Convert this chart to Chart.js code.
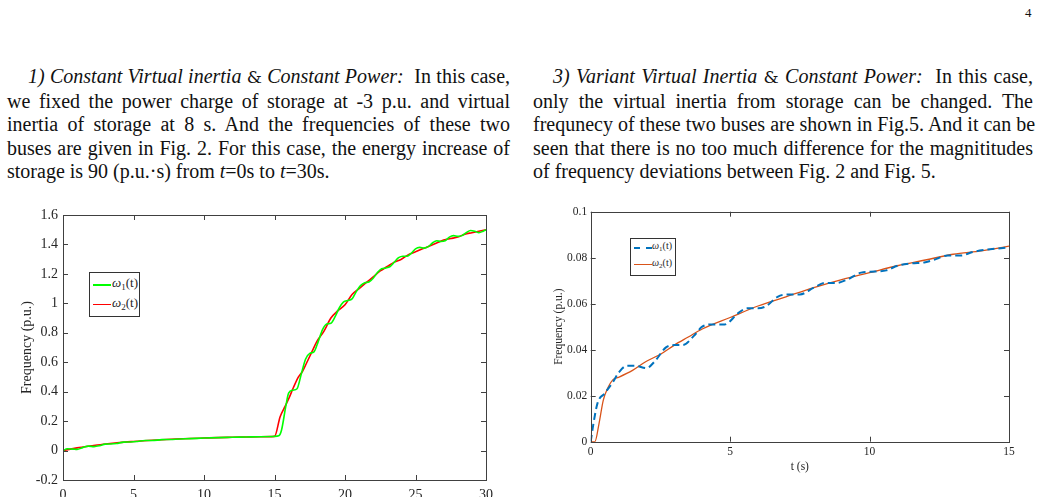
<!DOCTYPE html>
<html>
<head>
<meta charset="utf-8">
<script src="https://cdn.jsdelivr.net/npm/chart.js@4/dist/chart.umd.min.js"></script>
<style>
  html, body { margin: 0; padding: 0; background: #fff; }
  body { width: 1041px; height: 497px; overflow: hidden; position: relative;
         font-family: 'Liberation Serif', 'Times New Roman', serif; color: #111; }
  .pageno { position: absolute; left: 1025px; top: 5px; font-size: 13px; }
  .col { position: absolute; top: 65px; font-size: 20px; line-height: 23.6px; }
  .col div { text-align: justify; text-align-last: justify; white-space: nowrap; }
  .col div.last { text-align-last: left; }
  .col i { font-style: italic; }
  .amp { font-family: 'DejaVu Serif', serif; font-size: 17px; }
  .chartbox { position: absolute; }
  .legend { position: absolute; background: #fff; border: 1px solid #333; box-sizing: border-box; }
  .legend .row { position: absolute; left: 0; white-space: nowrap; }
  .legend .swatch { position: absolute; }
  .legend .lbl { position: absolute; color: #262626; }
  .legend sub { font-size: 70%; vertical-align: -0.35em; line-height: 0; }
</style>
</head>
<body>
<div class="pageno">4</div>

<div class="col" style="left:7px;width:503px;">
  <div style="padding-left:21px;"><i>1) Constant Virtual inertia</i> <span class="amp">&amp;</span> <i>Constant Power:</i>&nbsp; In this case,</div>
  <div>we fixed the power charge of storage at -3 p.u. and virtual</div>
  <div>inertia of storage at 8 s. And the frequencies of these two</div>
  <div>buses are given in Fig. 2. For this case, the energy increase of</div>
  <div class="last">storage is 90 (p.u.·s) from <i>t</i>=0s to <i>t</i>=30s.</div>
</div>

<div class="col" style="left:533px;width:500px;">
  <div style="padding-left:20px;"><i>3) Variant Virtual Inertia</i> <span class="amp">&amp;</span> <i>Constant Power:</i>&nbsp; In this case,</div>
  <div>only the virtual inertia from storage can be changed. The</div>
  <div>frequnecy of these two buses are shown in Fig.5. And it can be</div>
  <div>seen that there is no too much difference for the magnititudes</div>
  <div class="last">of frequency deviations between Fig. 2 and Fig. 5.</div>
</div>

<div class="chartbox" style="left:0;top:200px;width:500px;height:310px;"><canvas id="fig2"></canvas></div>
<div class="chartbox" style="left:530px;top:200px;width:511px;height:297px;"><canvas id="fig5"></canvas></div>

<div class="legend" style="left:89px;top:272px;width:51px;height:45px;">
  <div class="swatch" style="left:3px;top:11px;width:18px;border-top:2px solid #00ff00;"></div>
  <div class="lbl" style="left:22px;top:2px;font-size:13px;"><i>ω</i><sub>1</sub>(t)</div>
  <div class="swatch" style="left:3px;top:31px;width:18px;border-top:1.5px solid #ff0000;"></div>
  <div class="lbl" style="left:22px;top:22px;font-size:13px;"><i>ω</i><sub>2</sub>(t)</div>
</div>

<div class="legend" style="left:630px;top:238px;width:46px;height:38px;">
  <div class="swatch" style="left:3px;top:8px;width:18px;border-top:2px dashed #0072bd;"></div>
  <div class="lbl" style="left:21px;top:1px;font-size:10px;"><i>ω</i><sub>1</sub>(t)</div>
  <div class="swatch" style="left:3px;top:25px;width:18px;border-top:1.5px solid #d95319;"></div>
  <div class="lbl" style="left:21px;top:18px;font-size:10px;"><i>ω</i><sub>2</sub>(t)</div>
</div>

<script>
// Fig. 2 - constant inertia, constant power
const fig2T2 = [0, 1, 2, 3, 4, 5, 6, 7, 8, 9, 10, 11, 12, 13, 14, 15, 15.4, 15.75, 16, 16.35, 16.7, 17, 17.3, 17.65, 18, 18.5, 19, 19.5, 20, 20.5, 21, 21.5, 22, 22.5, 23, 23.5, 24, 24.5, 25, 25.5, 26, 26.5, 27, 27.5, 28, 28.5, 29, 29.5, 30];
const fig2W2 = [0, 0.018, 0.032, 0.045, 0.055, 0.062, 0.068, 0.073, 0.078, 0.082, 0.085, 0.088, 0.09, 0.092, 0.094, 0.096, 0.23, 0.3, 0.35, 0.43, 0.5, 0.54, 0.6, 0.67, 0.74, 0.81, 0.9, 0.95, 0.99, 1.06, 1.1, 1.14, 1.18, 1.22, 1.25, 1.28, 1.3, 1.33, 1.35, 1.37, 1.39, 1.41, 1.43, 1.44, 1.45, 1.47, 1.48, 1.49, 1.5];
const fig2T1 = [0, 0.3, 0.7, 1.0, 1.4, 1.8, 2.2, 2.6, 3.0, 3.4, 3.8, 4.3, 4.8, 5.3, 5.8, 6.3, 7, 7.6, 8.3, 9, 10, 11, 12, 13, 14, 15, 15.3, 15.5, 15.8, 16.0, 16.3, 16.6, 16.9, 17.2, 17.5, 17.8, 18.1, 18.4, 18.7, 19.0, 19.3, 19.6, 19.9, 20.2, 20.5, 20.8, 21.1, 21.4, 21.7, 22.0, 22.3, 22.6, 22.9, 23.2, 23.5, 23.8, 24.1, 24.4, 24.7, 25.0, 25.3, 25.6, 25.9, 26.2, 26.5, 26.8, 27.1, 27.4, 27.7, 28.0, 28.3, 28.6, 28.9, 29.2, 29.5, 29.8, 30];
const fig2W1 = [0, 0.012, 0.01, 0.008, 0.02, 0.03, 0.027, 0.033, 0.044, 0.045, 0.048, 0.057, 0.058, 0.062, 0.068, 0.068, 0.074, 0.075, 0.079, 0.081, 0.085, 0.088, 0.09, 0.092, 0.094, 0.096, 0.1, 0.14, 0.3, 0.39, 0.41, 0.42, 0.52, 0.62, 0.66, 0.67, 0.74, 0.82, 0.86, 0.865, 0.91, 0.97, 1.01, 1.02, 1.03, 1.08, 1.12, 1.14, 1.145, 1.17, 1.21, 1.235, 1.24, 1.25, 1.28, 1.31, 1.32, 1.32, 1.34, 1.37, 1.38, 1.375, 1.385, 1.41, 1.425, 1.42, 1.425, 1.45, 1.46, 1.455, 1.46, 1.48, 1.495, 1.49, 1.48, 1.49, 1.5];
const fig2XTicks = [0, 5, 10, 15, 20, 25, 30];
const fig2YTicks = [-0.2, 0, 0.2, 0.4, 0.6, 0.8, 1, 1.2, 1.4, 1.6];

// Fig. 5 - variant inertia, constant power
const fig5T1 = [0, 0.1, 0.25, 0.5, 0.8, 1.0, 1.3, 1.6, 2.0, 2.3, 2.7, 3.0, 3.3, 3.7, 4.0, 4.4, 4.8, 5.3, 5.6, 6.0, 6.3, 6.7, 7.0, 7.5, 8.0, 8.4, 8.8, 9.2, 9.7, 10.2, 10.6, 11.0, 11.5, 12.0, 12.4, 12.8, 13.3, 13.7, 14.2, 14.6, 15];
const fig5W1 = [0, 0.008, 0.017, 0.021, 0.026, 0.03, 0.033, 0.033, 0.032, 0.035, 0.041, 0.042, 0.042, 0.046, 0.05, 0.051, 0.051, 0.056, 0.058, 0.058, 0.059, 0.063, 0.064, 0.064, 0.067, 0.069, 0.069, 0.0705, 0.0735, 0.074, 0.0745, 0.0765, 0.0775, 0.078, 0.0795, 0.081, 0.081, 0.0825, 0.0835, 0.084, 0.0845];
const fig5T2 = [0, 0.15, 0.3, 0.45, 0.6, 0.8, 1.0, 1.5, 2, 2.5, 3, 3.5, 4, 5, 6, 7, 8, 9, 10, 11, 12, 13, 14, 15];
const fig5W2 = [0, 0, 0.008, 0.018, 0.023, 0.027, 0.028, 0.031, 0.035, 0.038, 0.042, 0.0455, 0.049, 0.054, 0.059, 0.063, 0.067, 0.0705, 0.0735, 0.0765, 0.079, 0.0815, 0.083, 0.085];
const fig5XTicks = [0, 5, 10, 15];
const fig5YTicks = [0, 0.02, 0.04, 0.06, 0.08, 0.1];

const pts = (xs, ys) => xs.map((x, i) => ({ x: x, y: ys[i] }));

// matlab-style box with inward ticks on all four sides
const boxTicks = {
    id: 'boxTicks',
    afterDraw(chart, args, opts) {
        const ctx = chart.ctx;
        const a = chart.chartArea;
        const x = chart.scales.x, y = chart.scales.y;
        const len = opts.len || 5;
        ctx.save();
        ctx.strokeStyle = opts.color || '#333';
        ctx.lineWidth = 1;
        ctx.beginPath();
        x.ticks.forEach(t => {
            const p = Math.round(x.getPixelForValue(t.value)) + 0.5;
            ctx.moveTo(p, a.bottom); ctx.lineTo(p, a.bottom - len);
            ctx.moveTo(p, a.top); ctx.lineTo(p, a.top + len);
        });
        y.ticks.forEach(t => {
            const p = Math.round(y.getPixelForValue(t.value)) + 0.5;
            ctx.moveTo(a.left, p); ctx.lineTo(a.left + len, p);
            ctx.moveTo(a.right, p); ctx.lineTo(a.right - len, p);
        });
        ctx.stroke();
        ctx.strokeRect(Math.round(a.left) + 0.5, Math.round(a.top) + 0.5,
            Math.round(a.right - a.left), Math.round(a.bottom - a.top));
        ctx.restore();
    }
};

const fmt = v => String(Math.round(v * 1000) / 1000);

function makeScales(o) {
    return {
        x: {
            type: 'linear', min: o.xMin, max: o.xMax,
            afterBuildTicks: s => { s.ticks = o.xTicks.map(v => ({ value: v })); },
            afterFit: s => { s.height = o.xHeight; },
            grid: { display: false, drawTicks: false },
            border: { display: false },
            ticks: { padding: o.xPad, color: '#262626', maxRotation: 0, autoSkip: false,
                     font: { family: 'Liberation Serif', size: o.font }, callback: fmt },
            title: o.xTitle ? { display: true, text: o.xTitle, color: '#262626', padding: { top: 0, bottom: o.xTitlePad },
                     font: { family: 'Liberation Serif', size: o.font } } : { display: false }
        },
        y: {
            type: 'linear', min: o.yMin, max: o.yMax,
            afterBuildTicks: s => { s.ticks = o.yTicks.map(v => ({ value: v })); },
            afterFit: s => { s.width = o.yWidth; },
            grid: { display: false, drawTicks: false },
            border: { display: false },
            ticks: { padding: o.yPad, color: '#262626', autoSkip: false,
                     font: { family: 'Liberation Serif', size: o.font }, callback: fmt },
            title: { display: true, text: 'Frequency (p.u.)', color: '#262626', padding: { top: o.yTitlePad, bottom: 0 },
                     font: { family: 'Liberation Serif', size: o.titleFont } }
        }
    };
}

new Chart(document.getElementById('fig2'), {
    type: 'line',
    data: {
        datasets: [{
            label: 'ω1(t)',
            data: pts(fig2T1, fig2W1),
            borderColor: '#00ff00',
            borderWidth: 1.6,
            pointRadius: 0,
            cubicInterpolationMode: 'monotone'
        }, {
            label: 'ω2(t)',
            data: pts(fig2T2, fig2W2),
            borderColor: '#ff0000',
            borderWidth: 1.6,
            pointRadius: 0,
            cubicInterpolationMode: 'monotone'
        }]
    },
    options: {
        responsive: true,
        maintainAspectRatio: false,
        animation: false,
        layout: { padding: { top: 15, right: 12, left: 0, bottom: 0 } },
        plugins: { legend: { display: false }, tooltip: { enabled: false }, boxTicks: { len: 5, color: '#404040' } },
        scales: makeScales({
            xMin: 0, xMax: 30, xTicks: fig2XTicks, xHeight: 30, xPad: 7,
            yMin: -0.2, yMax: 1.6, yTicks: fig2YTicks, yWidth: 63, yPad: 5,
            font: 14, titleFont: 14, yTitlePad: 18.6
        })
    },
    plugins: [boxTicks]
});

new Chart(document.getElementById('fig5'), {
    type: 'line',
    data: {
        datasets: [{
            label: 'ω1(t)',
            data: pts(fig5T1, fig5W1),
            borderColor: '#0072bd',
            borderWidth: 2,
            borderDash: [7, 4],
            pointRadius: 0,
            cubicInterpolationMode: 'monotone'
        }, {
            label: 'ω2(t)',
            data: pts(fig5T2, fig5W2),
            borderColor: '#d95319',
            borderWidth: 1.3,
            pointRadius: 0,
            cubicInterpolationMode: 'monotone'
        }]
    },
    options: {
        responsive: true,
        maintainAspectRatio: false,
        animation: false,
        layout: { padding: { top: 11.7, right: 32, left: 0, bottom: 0 } },
        plugins: { legend: { display: false }, tooltip: { enabled: false }, boxTicks: { len: 5, color: '#404040' } },
        scales: makeScales({
            xMin: 0, xMax: 15, xTicks: fig5XTicks, xHeight: 55.3, xPad: 3, xTitle: 't (s)', xTitlePad: 23.4,
            yMin: 0, yMax: 0.1, yTicks: fig5YTicks, yWidth: 60.7, yPad: 3.5,
            font: 11.5, titleFont: 11.5, yTitlePad: 22.4
        })
    },
    plugins: [boxTicks]
});
</script>
</body>
</html>
